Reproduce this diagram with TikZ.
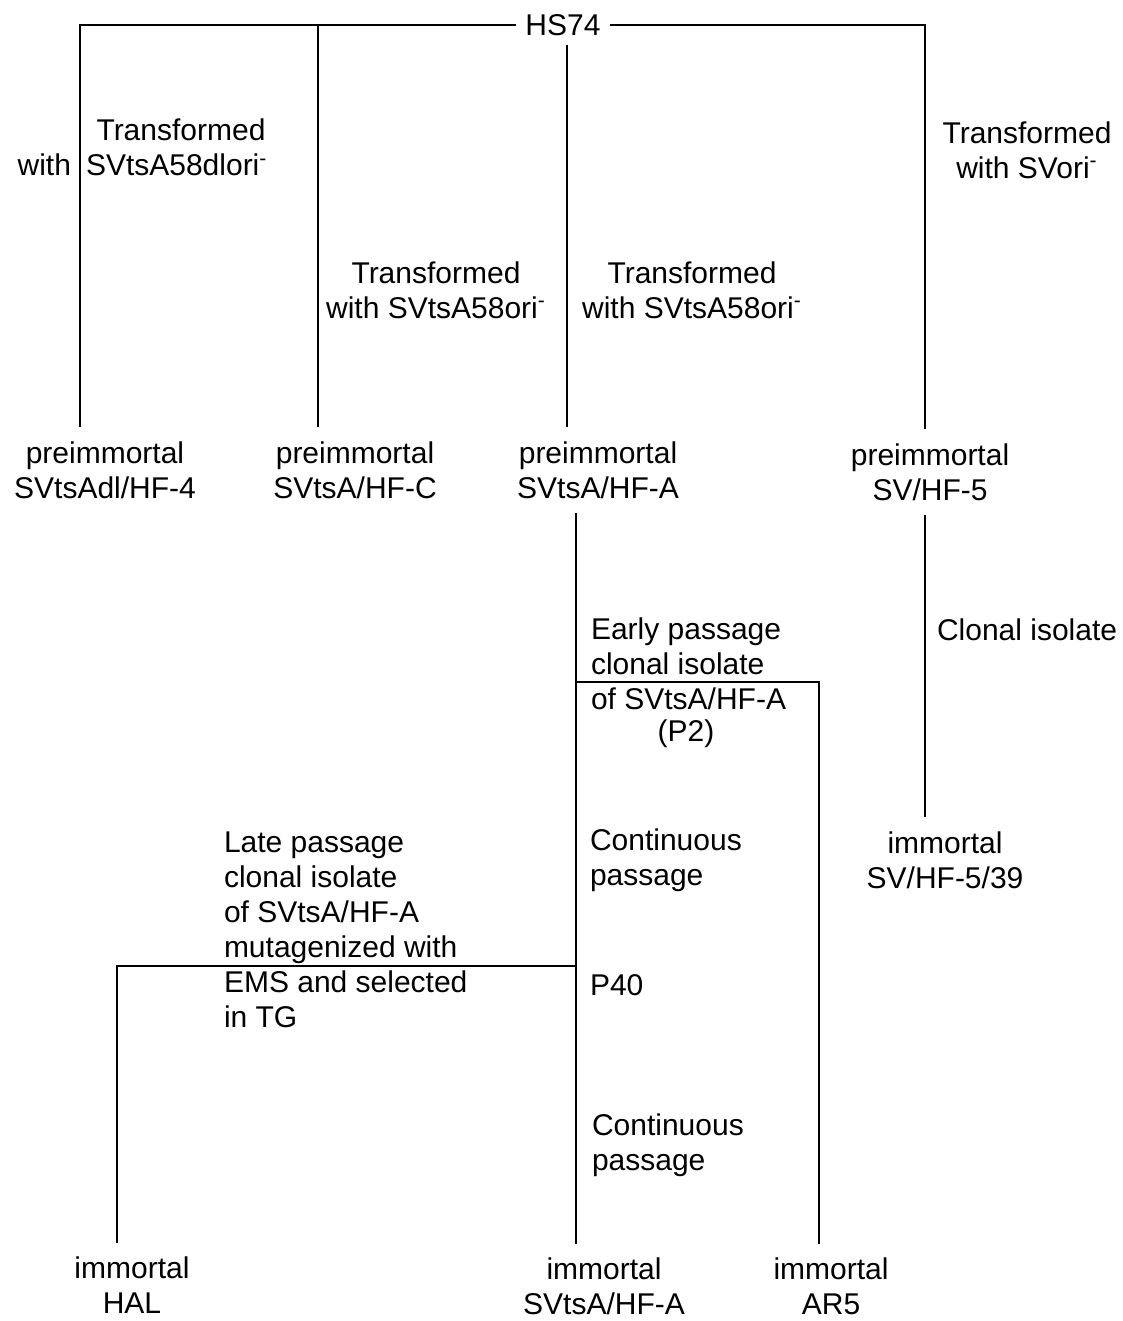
\documentclass[tikz,border=0pt]{standalone}
\usepackage{fontspec}
\setmainfont{Liberation Sans}

\begin{document}
\begin{tikzpicture}[x=0.5pt,y=-0.5pt,line width=1pt,
    lab/.style={font=\fontsize{15}{17.5}\selectfont,inner sep=2pt},
    cell/.style={lab,align=center,outer sep=5pt},
    note/.style={lab,align=left,anchor=west}]
  \useasboundingbox (0,0) rectangle (1123,1321);

  % parent line and its four branches
  \node[lab,inner sep=4pt] (hs) at (563,25) {HS74};
  \coordinate (b1) at (80,25);
  \coordinate (b2) at (318,25);
  \coordinate (b3) at (567,25);
  \coordinate (b4) at (925,25);

  \node[cell] (pre1) at (105,470) {preimmortal\\SVtsAdl/HF-4};
  \node[cell] (pre2) at (355,470) {preimmortal\\SVtsA/HF-C};
  \node[cell] (pre3) at (598,470) {preimmortal\\SVtsA/HF-A};
  \node[cell] (pre4) at (930,472) {preimmortal\\SV/HF-5};

  \draw (hs.west) -- (b1) -- (b1 |- pre1.north);
  \draw (b2) -- (b2 |- pre2.north);
  \draw (hs.east) -- (b4) -- (b4 |- pre4.north);
  \draw (b3 |- hs.south) -- (b3 |- pre3.north);

  \node[lab] (t1) at (181,130) {Transformed};
  \node[lab,anchor=east] (t1a) at (76,165) {with};
  \node[lab,anchor=west] (t1b) at (81,165) {SVtsA58dlori\textsuperscript{-}};
  \node[cell] (t2) at (436,290) {Transformed\\with SVtsA58ori\textsuperscript{-}};
  \node[cell] (t3) at (692,290) {Transformed\\with SVtsA58ori\textsuperscript{-}};
  \node[cell] (t4) at (1027,150) {Transformed\\with SVori\textsuperscript{-}};

  % SVtsA/HF-A lineage
  \coordinate (m) at (576,0);
  \node[cell] (imm1) at (132,1285) {immortal\\HAL};
  \node[cell] (imm2) at (604,1286) {immortal\\SVtsA/HF-A};
  \node[cell] (imm3) at (831,1286) {immortal\\AR5};
  \coordinate (e1) at (819,682);
  \coordinate (l1) at (117,966);

  \draw (m |- pre3.south) -- (m |- imm2.north);
  \draw (m |- e1) -- (e1) -- (e1 |- imm3.north);
  \draw (m |- l1) -- (l1) -- (l1 |- imm1.north);

  \node[note] (early) at (586,664) {Early passage\\clonal isolate\\of SVtsA/HF-A};
  \node[lab] (p2) at (686,734) {(P2)};
  \node[note] (cont1) at (585,860) {Continuous\\passage};
  \node[note] (p40) at (585,985) {P40};
  \node[note] (cont2) at (587,1145) {Continuous\\passage};
  \node[note] (late) at (219,930) {Late passage\\clonal isolate\\of SVtsA/HF-A\\mutagenized with\\EMS and selected\\in TG};

  % SV/HF-5 lineage
  \node[cell] (imm4) at (945,860) {immortal\\SV/HF-5/39};
  \draw (b4 |- pre4.south) -- (b4 |- imm4.north);
  \node[note] (clon) at (932,630) {Clonal isolate};
\end{tikzpicture}
\end{document}
